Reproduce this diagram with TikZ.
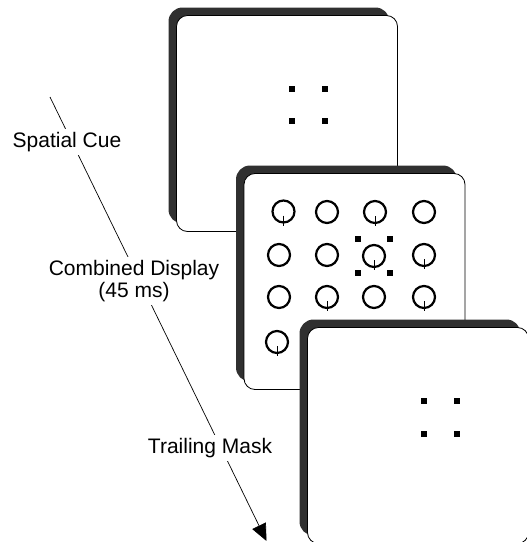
\documentclass[tikz,border=0pt]{standalone}
\usepackage{fontspec}
\setmainfont{Liberation Sans}
\usetikzlibrary{arrows.meta}
\definecolor{shadowgray}{HTML}{303030}
\tikzset{
  cardbox/.style={draw=black, line width=0.8pt, fill=white, rounded corners=11pt, inner sep=0pt, minimum width=221pt, minimum height=216pt},
  shadowbox/.style={fill=shadowgray, rounded corners=14pt, inner sep=0pt, minimum width=221pt, minimum height=216pt},
  ring/.style={circle, draw=black, line width=2.2pt, minimum size=22pt, inner sep=0pt},
  tickmark/.style={draw=black, line width=0.9pt},
  dot/.style={fill=black, inner sep=0pt, minimum size=5.5pt},
  lbl/.style={fill=white, inner sep=3pt, font=\fontsize{21}{22.5}\selectfont, align=center},
  timeline/.style={draw=black, line width=0.7pt, -{Triangle[length=17pt,width=15pt]}}
}
\begin{document}
\begin{tikzpicture}[x=1pt, y=-1pt]
\useasboundingbox (0,0) rectangle (527,542);
\clip (0,0) rectangle (527,542);
% timeline arrow
\coordinate (tstart) at (50,97);
\coordinate (tend) at (266.5,541);
\draw[timeline] (tstart) -- (tend);
% card 1
\node[shadowbox] (s1) at (279,115.5) {};
\node[cardbox] (c1) at (287,123.5) {};
\foreach \n/\x/\y in {a/292/89, b/325/89, c/292/121, d/325/121}
  \node[dot] (d1\n) at (\x,\y) {};
% card 2
\node[shadowbox] (s2) at (346.5,273.5) {};
\node[cardbox] (c2) at (354.5,281.5) {};
\foreach \n/\x/\y/\t in {11/283.5/211.5/1, 12/327/212/0, 13/375/212/1, 14/424/212/0,
                         21/279/255/0, 22/327/255/0, 23/374/256/1, 24/424/255/1,
                         31/279/297/0, 32/327/297/1, 33/374/297/0, 34/424/297/1,
                         41/277/342/1} {
  \node[ring] (r\n) at (\x,\y) {};
  \ifnum\t=1 \draw[tickmark] ([yshift=-4pt]r\n.center) -- ([yshift=-14pt]r\n.center); \fi
}
\foreach \n/\x/\y in {a/358/239, b/390/239, c/358/273, d/390/273}
  \node[dot] (d2\n) at (\x,\y) {};
% card 3
\node[shadowbox] (s3) at (410,427.5) {};
\node[cardbox] (c3) at (418,435.5) {};
\foreach \n/\x/\y in {a/424/401, b/457/401, c/424/434, d/457/434}
  \node[dot] (d3\n) at (\x,\y) {};
% labels
\node[lbl] (l1) at (67,142) {Spatial Cue};
\node[lbl] (l2) at (134,281) {Combined Display\\(45 ms)};
\node[lbl] (l3) at (210,448) {Trailing Mask};
\end{tikzpicture}
\end{document}
